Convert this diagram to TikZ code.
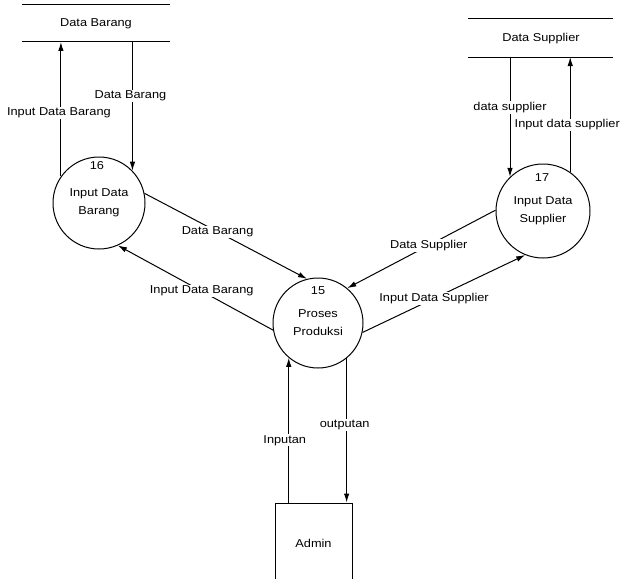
\documentclass[tikz,border=0pt]{standalone}
\usepackage{fontspec}
\setmainfont{Liberation Sans}[FakeStretch=1.12]
\usetikzlibrary{arrows.meta}
\begin{document}
\begin{tikzpicture}[x=1pt,y=-1pt,
  flow/.style={draw, line width=1pt, -{Latex[length=9pt,width=5.5pt]}},
  proc/.style={circle, draw, line width=1pt, minimum size=92pt, inner sep=0pt,
    align=center, font=\fontsize{11.4}{18}\selectfont},
  lbl/.style={fill=white, inner sep=1pt, font=\fontsize{11.4}{13}\selectfont},
  txt/.style={inner sep=0pt, font=\fontsize{11.4}{13}\selectfont},
  storeline/.style={line width=1pt},
  entity/.style={draw, line width=1pt, minimum width=77pt, minimum height=80pt,
    inner sep=0pt, font=\fontsize{11.4}{13}\selectfont}
]
\useasboundingbox (0,0) rectangle (620,578);
\clip (0,0) rectangle (620,578);

% data store: Data Barang
\coordinate (sbt1) at (22,5);  \coordinate (sbt2) at (170,5);
\coordinate (sbb1) at (22,42); \coordinate (sbb2) at (170,42);
\draw[storeline] (sbt1) -- (sbt2) (sbb1) -- (sbb2);
\node[txt] (sb) at (96,24) {Data Barang};

% data store: Data Supplier
\coordinate (sst1) at (468,19); \coordinate (sst2) at (613,19);
\coordinate (ssb1) at (468,57); \coordinate (ssb2) at (613,57);
\draw[storeline] (sst1) -- (sst2) (ssb1) -- (ssb2);
\node[txt] (ss) at (541,39) {Data Supplier};

% processes
\node[proc] (p16) at (99,203) {Input Data\\Barang};
\node[txt] (n16) at (97,166) {16};
\node[proc, minimum size=90pt] (p15) at (318,323) {Proses\\Produksi};
\node[txt] (n15) at (318,291) {15};
\node[proc, minimum size=94pt] (p17) at (543,211) {Input Data\\Supplier};
\node[txt] (n17) at (542,178) {17};

% external entity
\node[entity] (admin) at (313.5,543) {Admin};

% flows between process 16 and its store
\draw[flow] (p16.145.7) -- (p16.145.7 |- sbb1)
  node[lbl, pos=0.47, xshift=-2pt] {Input Data Barang};
\draw[flow] (p16.44 |- sbb1) -- (p16.44)
  node[lbl, pos=0.42, xshift=-2pt] {Data Barang};

% flows between process 17 and its store
\draw[flow] (p17.134.6 |- ssb1) -- (p17.134.6)
  node[lbl, pos=0.42] {data supplier};
\draw[flow] (p17.55) -- (p17.55 |- ssb1)
  node[lbl, pos=0.41, xshift=-3pt] {Input data supplier};

% flows between processes
\draw[flow] (p16.12.5) -- (p15.104)
  node[lbl, pos=0.45] {Data Barang};
\draw[flow] (p15.-171) -- (p16.-66)
  node[lbl, pos=0.46] {Input Data Barang};
\draw[flow] (p17.179) -- (p15.50)
  node[lbl, pos=0.45] {Data Supplier};
\draw[flow] (p15.-12.5) -- (p17.-112)
  node[lbl, pos=0.44] {Input Data Supplier};

% flows between admin and process 15
\draw[flow] (admin.north -| p15.-130) -- (p15.-130)
  node[lbl, pos=0.43, xshift=-4pt] {Inputan};
\draw[flow] (p15.-51.5) -- (admin.north -| p15.-51.5)
  node[lbl, pos=0.46, xshift=-2pt] {outputan};
\end{tikzpicture}
\end{document}
